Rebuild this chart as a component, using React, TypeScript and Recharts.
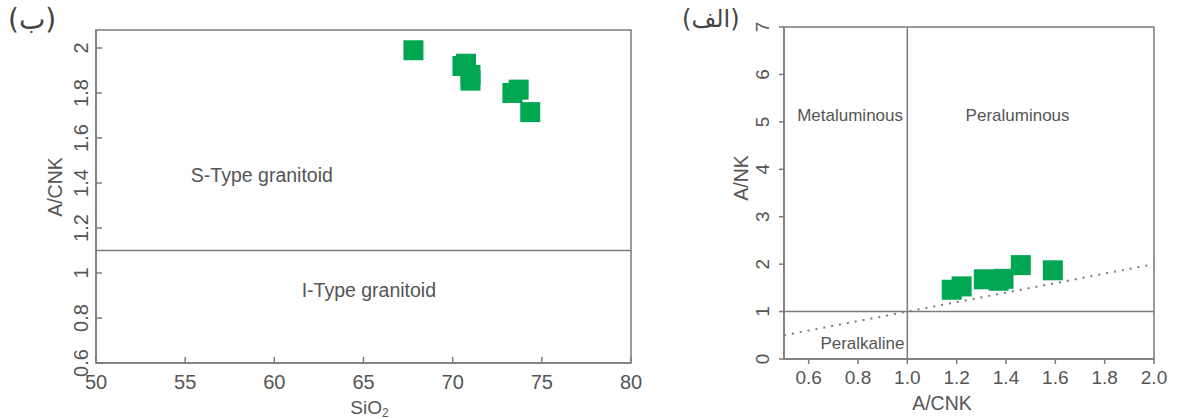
import { ReferenceArea, ReferenceDot, ReferenceLine, Scatter, ScatterChart, XAxis, YAxis } from "recharts";

const FONT = "'Liberation Sans', Arial, sans-serif";
const INK = "#555555";
const RULE = "#7b7b7b";
const GREEN = "#00a651";

// panel (ب): A/CNK against SiO2
const SIO2 = [67.8, 70.55, 70.75, 71.0, 71.0, 73.35, 73.7, 74.35];
const ACNK_VS_SIO2 = [1.99, 1.92, 1.93, 1.88, 1.855, 1.8, 1.815, 1.715];
const SIO2_TICKS = [50, 55, 60, 65, 70, 75, 80];
const SIO2_DOMAIN = [50, 80];
const ACNK_TICKS = [0.6, 0.8, 1, 1.2, 1.4, 1.6, 1.8, 2];
const ACNK_DOMAIN = [0.6, 2.08];
const S_I_BOUNDARY = 1.1;

// panel (الف): A/NK against A/CNK
const ACNK = [1.18, 1.22, 1.31, 1.37, 1.39, 1.46, 1.59];
const ANK = [1.46, 1.53, 1.68, 1.65, 1.69, 1.98, 1.87];
const ACNK_X_TICKS = [0.6, 0.8, 1.0, 1.2, 1.4, 1.6, 1.8, 2.0];
const ACNK_X_DOMAIN = [0.5, 2.0];
const ANK_TICKS = [0, 1, 2, 3, 4, 5, 6, 7];
const ANK_DOMAIN = [0, 7];

const granitoidData = SIO2.map((x, i) => ({ x, y: ACNK_VS_SIO2[i] }));
const shandData = ACNK.map((x, i) => ({ x, y: ANK[i] }));

const SquareMark = (p: any) => (
  <rect x={p.cx - 10} y={p.cy - 10} width={20} height={20} fill={GREEN} />
);

const HTick = ({ x, y, payload, size, fmt }: any) => (
  <text x={x} y={y} textAnchor="middle" fill={INK} fontSize={size} fontFamily={FONT}>
    {fmt(payload.value)}
  </text>
);

const VTick = ({ x, y, payload, size, fmt }: any) => (
  <text
    x={x}
    y={y}
    transform={`rotate(-90 ${x} ${y})`}
    textAnchor="middle"
    fill={INK}
    fontSize={size}
    fontFamily={FONT}
  >
    {fmt(payload.value)}
  </text>
);

const regionLabel = (value: string, size: number) => ({
  value,
  position: "center" as const,
  fill: INK,
  fontSize: size,
  fontFamily: FONT,
});

export default function App() {
  return (
    <div style={{ position: "absolute", left: 0, top: 0, width: 1179, height: 419, background: "#fff" }}>
      <div style={{ position: "absolute", left: 8, top: 2, fontFamily: "'DejaVu Sans'", fontSize: 28, color: "#444", lineHeight: "36px" }}>
        (ب)
      </div>
      <div style={{ position: "absolute", left: 682, top: 3, fontFamily: "'DejaVu Sans'", fontSize: 24, color: "#444", lineHeight: "32px" }}>
        (الف)
      </div>

      <div style={{ position: "absolute", left: 0, top: 0 }}>
        <ScatterChart width={660} height={419} margin={{ top: 30, right: 29, bottom: 26, left: 56 }}>
          <ReferenceArea
            x1={SIO2_DOMAIN[0]}
            x2={SIO2_DOMAIN[1]}
            y1={ACNK_DOMAIN[0]}
            y2={ACNK_DOMAIN[1]}
            fill="none"
            stroke={RULE}
            strokeWidth={1.5}
          />
          <XAxis
            type="number"
            dataKey="x"
            domain={SIO2_DOMAIN}
            ticks={SIO2_TICKS}
            interval={0}
            height={30}
            axisLine={{ stroke: RULE, strokeWidth: 1.5 }}
            tickLine={{ stroke: RULE, strokeWidth: 1.5 }}
            tickSize={-6}
            tickMargin={32}
            tick={(p: any) => <HTick {...p} size={20} fmt={(v: number) => String(v)} />}
            label={{
              content: ({ viewBox }: any) => (
                <text x={viewBox.x + viewBox.width / 2 + 6} y={414} textAnchor="middle" fill={INK} fontSize={19} fontFamily={FONT}>
                  SiO
                  <tspan dy={3} fontSize={12}>2</tspan>
                </text>
              ),
            }}
          />
          <YAxis
            type="number"
            dataKey="y"
            domain={ACNK_DOMAIN}
            ticks={ACNK_TICKS}
            interval={0}
            width={40}
            allowDataOverflow
            axisLine={{ stroke: RULE, strokeWidth: 1.5 }}
            tickLine={{ stroke: RULE, strokeWidth: 1.5 }}
            tickSize={-6}
            tickMargin={14}
            tick={(p: any) => <VTick {...p} size={20} fmt={(v: number) => String(v)} />}
            label={{
              content: () => (
                <text x={62} y={187} transform="rotate(-90 62 187)" textAnchor="middle" fill={INK} fontSize={19.5} fontFamily={FONT}>
                  A/CNK
                </text>
              ),
            }}
          />
          <ReferenceLine y={S_I_BOUNDARY} stroke={RULE} strokeWidth={1.5} />
          <ReferenceDot x={59.3} y={1.436} r={0} fill="none" stroke="none" label={regionLabel("S-Type granitoid", 19.5)} />
          <ReferenceDot x={65.3} y={0.924} r={0} fill="none" stroke="none" label={regionLabel("I-Type granitoid", 19.5)} />
          <Scatter data={granitoidData} shape={SquareMark} isAnimationActive={false} />
        </ScatterChart>
      </div>

      <div style={{ position: "absolute", left: 660, top: 0 }}>
        <ScatterChart width={519} height={419} margin={{ top: 27, right: 25, bottom: 30, left: 84 }}>
          <ReferenceArea
            x1={ACNK_X_DOMAIN[0]}
            x2={ACNK_X_DOMAIN[1]}
            y1={ANK_DOMAIN[0]}
            y2={ANK_DOMAIN[1]}
            fill="none"
            stroke={RULE}
            strokeWidth={1.5}
          />
          <XAxis
            type="number"
            dataKey="x"
            domain={ACNK_X_DOMAIN}
            ticks={ACNK_X_TICKS}
            interval={0}
            height={30}
            axisLine={{ stroke: RULE, strokeWidth: 1.5 }}
            tickLine={{ stroke: RULE, strokeWidth: 1.5 }}
            tickSize={5}
            tickMargin={20}
            tick={(p: any) => <HTick {...p} size={19} fmt={(v: number) => v.toFixed(1)} />}
            label={{
              content: () => (
                <text x={282} y={410} textAnchor="middle" fill={INK} fontSize={19.5} fontFamily={FONT}>
                  A/CNK
                </text>
              ),
            }}
          />
          <YAxis
            type="number"
            dataKey="y"
            domain={ANK_DOMAIN}
            ticks={ANK_TICKS}
            interval={0}
            width={40}
            axisLine={{ stroke: RULE, strokeWidth: 1.5 }}
            tickLine={{ stroke: RULE, strokeWidth: 1.5 }}
            tickSize={5}
            tickMargin={10}
            tick={(p: any) => <VTick {...p} size={19} fmt={(v: number) => String(v)} />}
            label={{
              content: () => (
                <text x={88} y={178} transform="rotate(-90 88 178)" textAnchor="middle" fill={INK} fontSize={19.5} fontFamily={FONT}>
                  A/NK
                </text>
              ),
            }}
          />
          <ReferenceLine x={1} stroke={RULE} strokeWidth={1.5} />
          <ReferenceLine y={1} stroke={RULE} strokeWidth={1.5} />
          <ReferenceLine
            segment={[
              { x: ACNK_X_DOMAIN[0], y: ACNK_X_DOMAIN[0] },
              { x: ACNK_X_DOMAIN[1], y: ACNK_X_DOMAIN[1] },
            ]}
            stroke={RULE}
            strokeWidth={2}
            strokeDasharray="2 6"
          />
          <ReferenceDot x={0.768} y={5.14} r={0} fill="none" stroke="none" label={regionLabel("Metaluminous", 17)} />
          <ReferenceDot x={1.447} y={5.14} r={0} fill="none" stroke="none" label={regionLabel("Peraluminous", 17)} />
          <ReferenceDot x={0.818} y={0.337} r={0} fill="none" stroke="none" label={regionLabel("Peralkaline", 17)} />
          <Scatter data={shandData} shape={SquareMark} isAnimationActive={false} />
        </ScatterChart>
      </div>
    </div>
  );
}
